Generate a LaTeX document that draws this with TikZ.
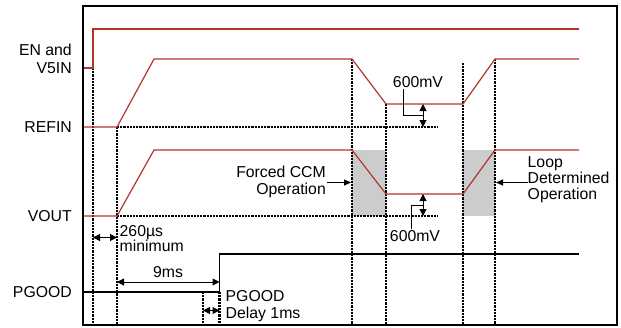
\documentclass[tikz,border=0pt]{standalone}
\usepackage{fontspec}
\setmainfont{Liberation Sans}
\usetikzlibrary{arrows.meta}
\definecolor{wred}{RGB}{178,52,45}
\definecolor{regiongray}{RGB}{204,204,204}
\begin{document}
\begin{tikzpicture}[x=1bp,y=-1bp,
  lbl/.style={font=\fontsize{15.8bp}{17.5bp}\selectfont, inner sep=0pt},
  wave/.style={draw=wred, line width=1.2bp, line join=miter},
  sig/.style={draw=black, line width=1.2bp},
  dots/.style={draw=black, line width=2.3bp, dash pattern=on 2.2bp off 1bp},
  dimarrow/.style={draw=black, line width=1bp, {Triangle[length=7bp,width=7bp]}-{Triangle[length=7bp,width=7bp]}},
  onearrow/.style={draw=black, line width=1bp, -{Triangle[length=7bp,width=6bp]}},
  leader/.style={draw=black, line width=1bp}
]
\useasboundingbox (0,0) rectangle (621,327);

% gray regions
\fill[regiongray] (352,150) rectangle (386,216);
\fill[regiongray] (463,150) rectangle (495,216);

% vertical dotted lines
\draw[dots] (93,68) -- (93,325);
\draw[dots] (117,127) -- (117,325);
\draw[dots] (352,59) -- (352,325);
\draw[dots] (386,104) -- (386,325);
\draw[dots] (463,63) -- (463,325);
\draw[dots] (495,59) -- (495,325);
\draw[dots] (203,292) -- (203,325);
\draw[dots] (219.5,292) -- (219.5,325);
% horizontal dotted lines
\draw[dots] (117,127) -- (438,127);
\draw[dots] (117,216) -- (438,216);

% waveforms
\draw[wave] (83,68) -- (93,68) -- (93,29) -- (579,29);
\draw[wave] (83,127) -- (117,127) -- (154,59) -- (352,59) -- (386,104) -- (463,104) -- (495,59) -- (579,59);
\draw[wave] (83,216) -- (117,216) -- (154,150) -- (352,150) -- (386,194) -- (463,194) -- (495,150) -- (579,150);
\draw[sig] (83,292) -- (219.5,292) -- (219.5,254) -- (579,254);

% frame
\draw[line width=1.4bp] (83,6) rectangle (617,325);

% left labels
\node[lbl, align=right, anchor=east] (lEN) at (72,59) {EN and\\[0.5bp]V5IN};
\node[lbl, anchor=east] (lREF) at (72,127) {REFIN};
\node[lbl, anchor=east] (lVOUT) at (72,216) {VOUT};
\node[lbl, anchor=east] (lPG) at (72,292) {PGOOD};

% timing annotations
\coordinate (a260l) at (93,237.5);
\coordinate (a260r) at (117,237.5);
\draw[dimarrow] (a260l) -- (a260r);
\node[lbl, align=left, anchor=west] (t260) at (119.5,238.5) {260µs\\[-2.5bp]minimum};

\coordinate (a9l) at (117,282);
\coordinate (a9r) at (219.5,282);
\draw[dimarrow] (a9l) -- (a9r);
\node[lbl] (t9) at (168,272) {9ms};

\coordinate (adl) at (203,310.5);
\coordinate (adr) at (219.5,310.5);
\draw[dimarrow] (adl) -- (adr);
\node[lbl, align=left, anchor=west] (tPGD) at (225.5,306) {PGOOD\\Delay 1ms};

% Forced CCM
\node[lbl, align=right, anchor=east] (tFCCM) at (326,182) {Forced CCM\\[-1bp]Operation};
\coordinate (fccmEnd) at (351,182.5);
\draw[onearrow] (tFCCM.east |- fccmEnd) ++(1,0) -- (fccmEnd);

% Loop determined
\node[lbl, align=left, anchor=west] (tLoop) at (527.5,180) {Loop\\[-1.5bp]Determined\\[-1.5bp]Operation};
\coordinate (loopEnd) at (496,182.5);
\draw[onearrow] (tLoop.west |- loopEnd) -- (loopEnd);

% 600mV top
\node[lbl] (t600a) at (418,82) {600mV};
\coordinate (m1a) at (423,104);
\coordinate (m1b) at (423,127);
\draw[dimarrow] (m1a) -- (m1b);
\coordinate (lead1) at (423,115);
\draw[leader] (t600a.south -| 403,0) ++(0,1) |- (lead1);

% 600mV bottom
\node[lbl] (t600b) at (415,236) {600mV};
\coordinate (m2a) at (423,194);
\coordinate (m2b) at (423,216);
\draw[dimarrow] (m2a) -- (m2b);
\coordinate (lead2) at (423,205);
\draw[leader] (t600b.north -| 411,0) ++(0,-1) |- (lead2);
\end{tikzpicture}
\end{document}
